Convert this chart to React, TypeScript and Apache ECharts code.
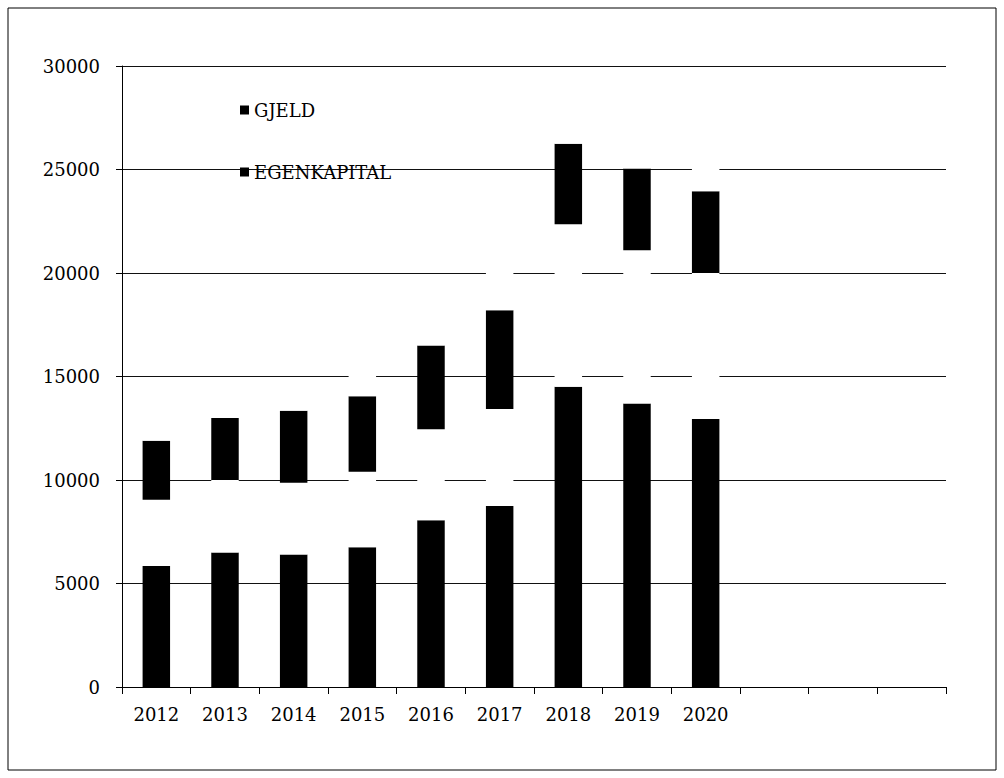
import React, { useEffect, useRef } from "react";
import * as echarts from "echarts";

const years = ["2012", "2013", "2014", "2015", "2016", "2017", "2018", "2019", "2020", "", "", ""];
const yTicks = { min: 0, max: 30000, interval: 5000 };

// Segment values of the stacked columns (bottom to top)
const egenkapital = [5850, 6500, 6400, 6750, 8050, 8750, 14500, 13700, 12950];
const mellomrom = [3200, 3500, 3470, 3650, 4400, 4680, 7850, 7400, 7050];
const gjeld = [2850, 3000, 3480, 3650, 4050, 4770, 3900, 3950, 3950];
const topp = [1500, 1500, 1300, 2000, 2000, 3000, 2000, 2000, 2500];

const FONT = "DejaVu Serif";

export default function App() {
  const ref = useRef<HTMLDivElement>(null);
  useEffect(() => {
    if (!ref.current) return;
    const chart = echarts.init(ref.current, null, { renderer: "svg" });
    chart.setOption({
      animation: false,
      backgroundColor: "#ffffff",
      graphic: [
        {
          type: "rect",
          shape: { x: 8, y: 8, width: 988, height: 762 },
          style: { fill: "none", stroke: "#000", lineWidth: 1 },
          silent: true,
        },
      ],
      legend: {
        data: ["GJELD", "EGENKAPITAL"],
        orient: "vertical",
        left: 235,
        top: 95,
        itemWidth: 9,
        itemHeight: 9,
        itemGap: 42,
        icon: "rect",
        selectedMode: false,
        textStyle: { fontFamily: FONT, fontSize: 18, color: "#000", lineHeight: 20 },
      },
      grid: { left: 122, right: 58, top: 66, bottom: 91, containLabel: false },
      xAxis: {
        type: "category",
        data: years,
        boundaryGap: true,
        axisLine: { show: true, lineStyle: { color: "#000", width: 1 } },
        axisTick: { show: true, length: 7, alignWithLabel: false, lineStyle: { color: "#000" } },
        axisLabel: { interval: 0, margin: 18, color: "#000", fontFamily: FONT, fontSize: 18 },
        splitLine: { show: false },
      },
      yAxis: {
        type: "value",
        min: yTicks.min,
        max: yTicks.max,
        interval: yTicks.interval,
        axisLine: { show: true, lineStyle: { color: "#000", width: 1 } },
        axisTick: { show: true, length: 6, lineStyle: { color: "#000" } },
        axisLabel: {
          margin: 22,
          color: "#000",
          fontFamily: FONT,
          fontSize: 18,
          formatter: (v: number) => String(v),
        },
        splitLine: { show: true, lineStyle: { color: "#111", width: 1 } },
      },
      series: [
        {
          name: "EGENKAPITAL",
          type: "bar",
          stack: "total",
          barWidth: "40%",
          data: egenkapital,
          itemStyle: { color: "#000" },
        },
        {
          name: "mellomrom",
          type: "bar",
          stack: "total",
          barWidth: "40%",
          data: mellomrom,
          itemStyle: { color: "#fff" },
          silent: true,
        },
        {
          name: "GJELD",
          type: "bar",
          stack: "total",
          barWidth: "40%",
          data: gjeld,
          itemStyle: { color: "#000" },
        },
        {
          name: "topp",
          type: "bar",
          stack: "total",
          barWidth: "40%",
          data: topp,
          itemStyle: { color: "#fff" },
          silent: true,
        },
      ],
    });
    return () => chart.dispose();
  }, []);
  return (
    <div
      ref={ref}
      style={{ position: "absolute", left: 0, top: 0, width: 1004, height: 778 }}
    />
  );
}
